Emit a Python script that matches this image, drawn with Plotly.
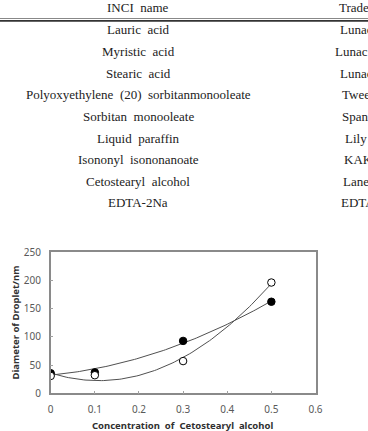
import numpy as np
import plotly.graph_objects as go

# ---- table content ----
inci_names = ["Lauric\u00a0 acid", "Myristic\u00a0 acid", "Stearic\u00a0 acid",
              "Polyoxyethylene\u00a0 (20)\u00a0 sorbitanmonooleate", "Sorbitan\u00a0 monooleate",
              "Liquid\u00a0 paraffin", "Isononyl\u00a0 isononanoate", "Cetostearyl\u00a0 alcohol",
              "EDTA-2Na"]
trade_names = ["Lunac L-98", "Lunac MY-98", "Lunac S-98", "Tween 80", "Span 80",
               "Lily 70", "KAK 99", "Lanette O", "EDTA-2Na"]
header = ["INCI\u00a0 name", "Trade\u00a0 name"]

# ---- chart data ----
conc = [0, 0.1, 0.3, 0.5]
filled = [35.5, 37, 92.7, 162]
opened = [30.7, 32, 57, 196]
x_ticks = [0, 0.1, 0.2, 0.3, 0.4, 0.5, 0.6]
y_ticks = [0, 50, 100, 150, 200, 250]

W, H = 368, 431
def px(x):
    return x / W
def py(y):
    return 1 - y / H

fig = go.Figure()

# trendlines (2nd order polynomial fitted to the data, as in the original)
xs = np.linspace(0, 0.5, 101)
for ys_data in (filled, opened):
    c = np.polyfit(conc, ys_data, 2)
    fig.add_trace(go.Scatter(x=xs, y=np.polyval(c, xs), mode="lines",
                             line=dict(color="#505050", width=1), showlegend=False,
                             hoverinfo="skip"))

fig.add_trace(go.Scatter(x=conc, y=filled, mode="markers",
                         marker=dict(size=7.5, color="black", line=dict(color="black", width=1)),
                         showlegend=False))
fig.add_trace(go.Scatter(x=conc, y=opened, mode="markers",
                         marker=dict(size=7.5, color="white", line=dict(color="black", width=1)),
                         showlegend=False))

tickfont = dict(family="Noto Sans", size=10, color="#595959")
fig.update_xaxes(domain=[px(50.7), px(315.5)], range=[0, 0.6], tickvals=x_ticks,
                 ticktext=[("%g" % v) for v in x_ticks], ticks="inside", ticklen=3,
                 tickcolor="#a0a0a0", showline=True, mirror=True, linecolor="#8a8a8a",
                 linewidth=1.5, showgrid=False, zeroline=False, tickfont=tickfont,
                 ticklabelstandoff=6, automargin=False)
fig.update_yaxes(domain=[py(393.3), py(252)], range=[0, 250], tickvals=y_ticks,
                 ticks="inside", ticklen=3, tickcolor="#a0a0a0", showline=True, mirror=True,
                 linecolor="#8a8a8a", linewidth=1.5, showgrid=False, zeroline=False,
                 tickfont=tickfont, ticklabelstandoff=6, automargin=False)

ann = []
serif = dict(family="Liberation Serif", size=13, color="#222222")
row_y = [30, 51.7, 73.3, 94.7, 116.3, 138, 159.7, 181.3, 203]
trade_x = [338, 333, 338, 340, 340, 343, 342, 340.7, 339]
ann.append(dict(x=px(138), y=py(7.3), text=header[0], xanchor="center", yanchor="middle",
                font=serif))
ann.append(dict(x=px(337.3), y=py(7.3), text=header[1], xanchor="left", yanchor="middle",
                font=serif))
for name, tn, yy, tx in zip(inci_names, trade_names, row_y, trade_x):
    ann.append(dict(x=px(138), y=py(yy), text=name, xanchor="center", yanchor="middle", font=serif))
    ann.append(dict(x=px(tx), y=py(yy), text=tn, xanchor="left", yanchor="middle", font=serif))

bold = dict(family="Noto Sans", size=9.5, color="#303030")
ann.append(dict(x=px(15), y=py(322.5), text="<b>Diameter of Droplet/nm</b>", textangle=-90,
                xanchor="center", yanchor="middle", font=bold))
ann.append(dict(x=px(182), y=py(425), text="<b>Concentration\u00a0 of\u00a0 Cetostearyl\u00a0 alcohol</b>",
                xanchor="center", yanchor="middle", font=bold))
for a in ann:
    a.update(xref="paper", yref="paper", showarrow=False)

shapes = [
    dict(type="line", xref="paper", yref="paper", x0=0, x1=1, y0=py(18.5), y1=py(18.5),
         line=dict(color="#888888", width=1)),
    dict(type="line", xref="paper", yref="paper", x0=0, x1=1, y0=py(20.9), y1=py(20.9),
         line=dict(color="#333333", width=1.6)),
]

fig.update_layout(width=W, height=H, margin=dict(l=0, r=0, t=0, b=0, pad=0, autoexpand=False),
                  paper_bgcolor="white", plot_bgcolor="white", template="none",
                  annotations=ann, shapes=shapes, showlegend=False)

fig.write_html("out.html")
